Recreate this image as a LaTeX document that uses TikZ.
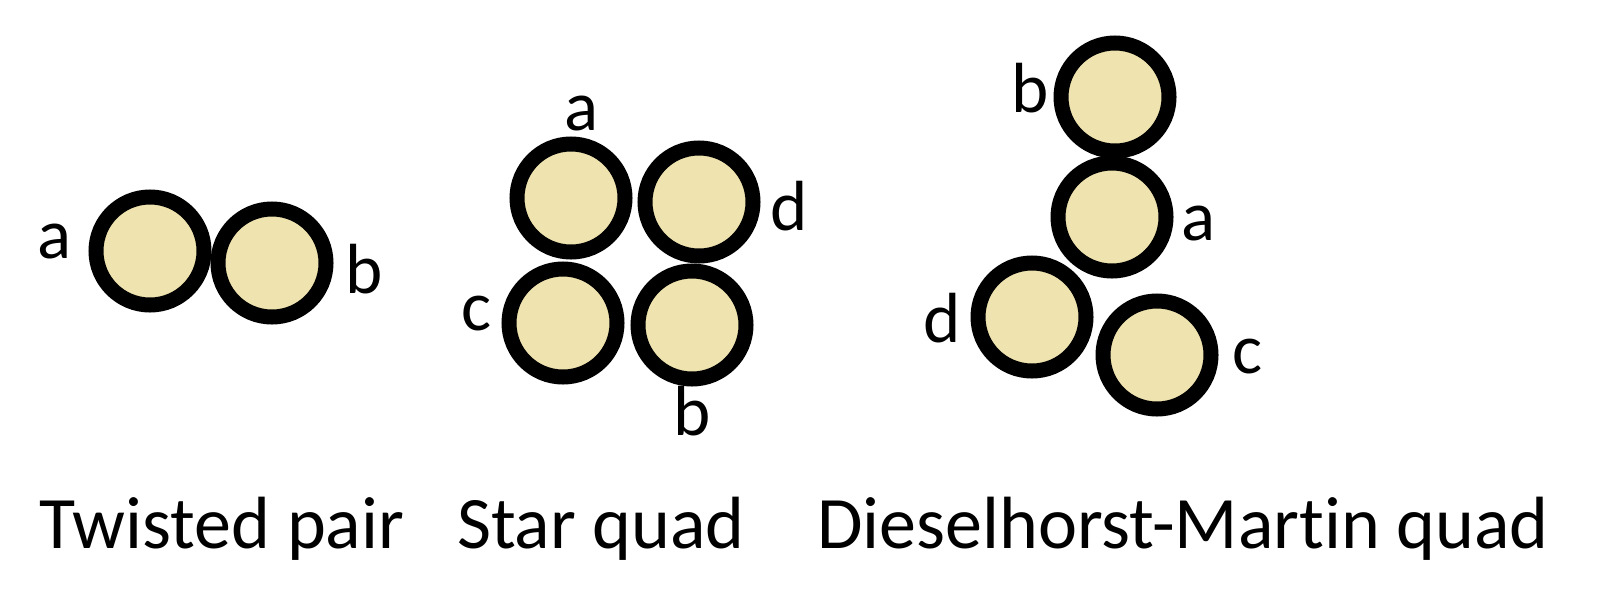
\documentclass[tikz,border=0pt]{standalone}
\usepackage{fontspec}
\setmainfont{Carlito}[Ligatures=NoCommon]
\usepackage{tikz}
\definecolor{cefe3af}{RGB}{239,227,175}

\begin{document}
\begin{tikzpicture}[y=0.50pt,x=0.50pt,yscale=-1, inner sep=0pt, outer sep=0pt,
    wire/.style={draw=black,fill=cefe3af,line width=7.5pt},
    letter/.style={anchor=base,font=\fontsize{35.5}{42}\selectfont},
    caption/.style={anchor=base,font=\fontsize{37}{44}\selectfont}]
  \useasboundingbox (0,0) rectangle (1600,600);
  % twisted pair
  \path[wire] (150,251) circle (54);
  \path[wire] (272,263) circle (54);
  \path[fill=black] (55,258) node[letter] (textTPa) {a};
  \path[fill=black] (364,293) node[letter] (textTPb) {b};
  % star quad
  \path[wire] (571,198) circle (54);
  \path[wire] (699,202) circle (54);
  \path[wire] (563,323) circle (54);
  \path[wire] (692,325) circle (54);
  \path[fill=black] (581,130) node[letter] (textSQa) {a};
  \path[fill=black] (789,230) node[letter] (textSQd) {d};
  \path[fill=black] (477,330) node[letter] (textSQc) {c};
  \path[fill=black] (692,435) node[letter] (textSQb) {b};
  % dieselhorst-martin quad
  \path[wire] (1115,97) circle (54);
  \path[wire] (1112,217) circle (54);
  \path[wire] (1032,317) circle (54);
  \path[wire] (1157,355) circle (54);
  \path[fill=black] (1030,112) node[letter] (textDMb) {b};
  \path[fill=black] (1198,240) node[letter] (textDMa) {a};
  \path[fill=black] (942,342) node[letter] (textDMd) {d};
  \path[fill=black] (1247,373) node[letter] (textDMc) {c};
  % captions
  \path[fill=black] (222,548) node[caption] (textTP) {Twisted pair};
  \path[fill=black] (601,548) node[caption] (textSQ) {Star quad};
  \path[fill=black] (1183,548) node[caption] (textDM) {Dieselhorst-Martin quad};

\end{tikzpicture}
\end{document}
